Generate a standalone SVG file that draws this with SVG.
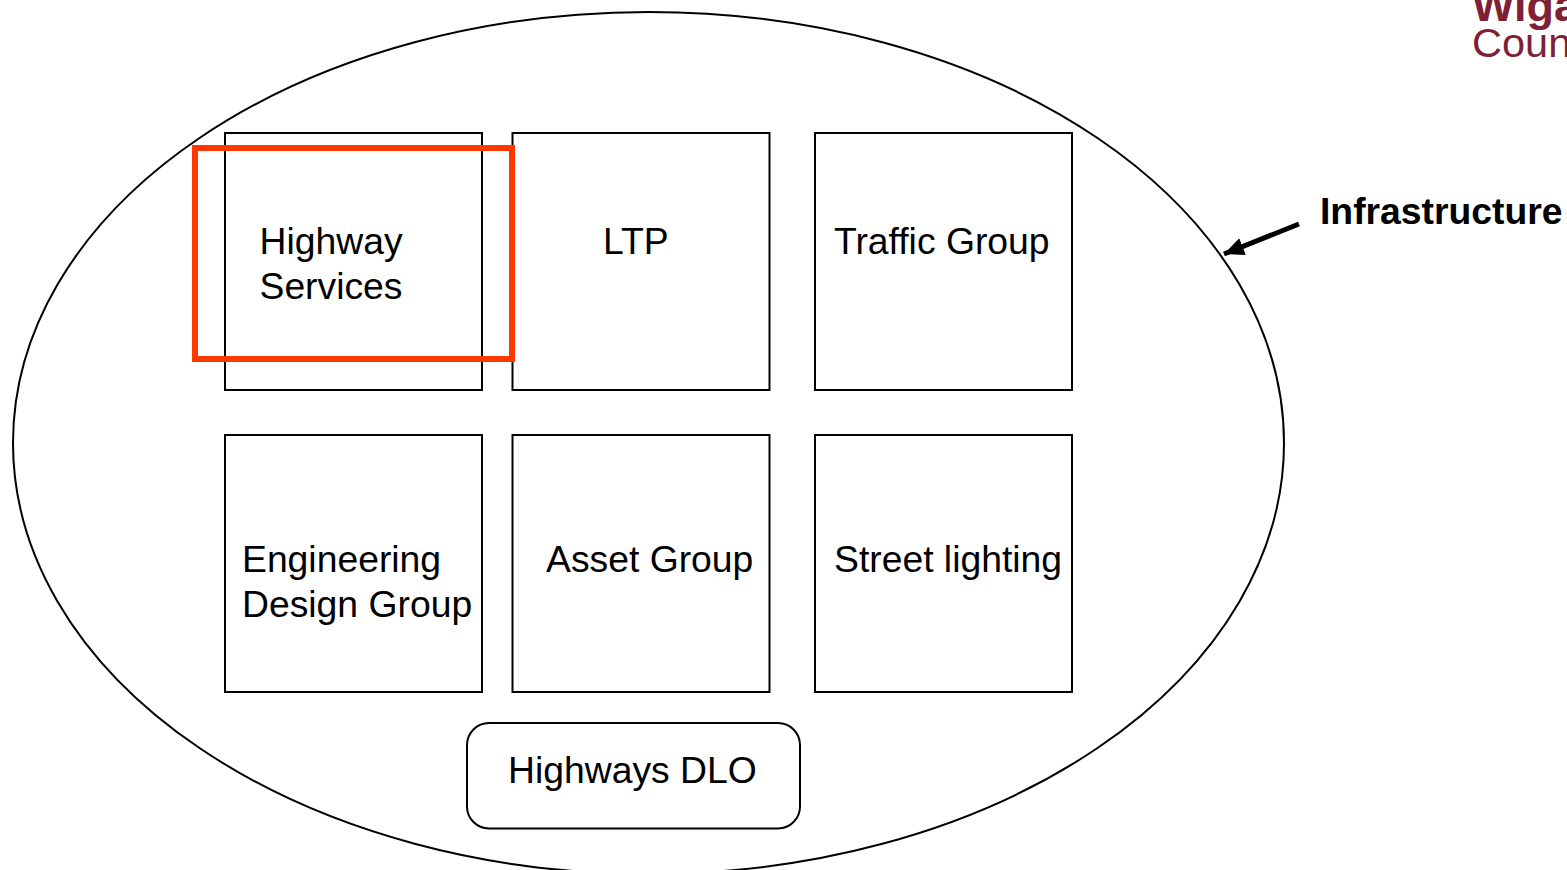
<svg xmlns="http://www.w3.org/2000/svg" width="1567" height="870" viewBox="0 0 1567 870">
<defs><marker id="a" markerUnits="userSpaceOnUse" markerWidth="22" markerHeight="20" refX="20" refY="10" orient="auto"><path d="M0 1L20 10L0 19z" fill="#000"/></marker></defs>
<style>
text{font-family:"Liberation Sans",Arial,sans-serif;font-size:37.3px;fill:#000}
.b{fill:#fff;stroke:#000;stroke-width:2}
.logo{fill:#7f2136}
</style>
<rect width="1567" height="870" fill="#fff"/>
<g id="logo"><text class="logo" x="1472" y="21" style="font-weight:700;font-size:45px">Wiga</text><text class="logo" x="1472" y="57" style="font-size:41.500px">Coun</text></g>
<g id="infrastructure-ellipse"><ellipse cx="648.500" cy="443" rx="635.500" ry="431" fill="none" stroke="#000" stroke-width="2"/></g>
<g id="highway-services"><rect class="b" x="225" y="133" width="257" height="257"/><text x="259.500" y="254">Highway</text><text x="259.500" y="299">Services</text></g>
<g id="ltp"><rect class="b" x="512.500" y="133" width="257" height="257"/><text x="603" y="254">LTP</text></g>
<g id="traffic-group"><rect class="b" x="815" y="133" width="257" height="257"/><text x="834" y="254">Traffic Group</text></g>
<g id="engineering-design-group"><rect class="b" x="225" y="435" width="257" height="257"/><text x="242" y="572">Engineering</text><text x="242" y="617">Design Group</text></g>
<g id="asset-group"><rect class="b" x="512.500" y="435" width="257" height="257"/><text x="546" y="572">Asset Group</text></g>
<g id="street-lighting"><rect class="b" x="815" y="435" width="257" height="257"/><text x="834" y="572">Street lighting</text></g>
<g id="highways-dlo"><rect class="b" x="467" y="723" width="333" height="105.500" rx="22"/><text x="508" y="783">Highways DLO</text></g>
<g id="highlight"><rect x="195" y="148" width="317" height="211" fill="none" stroke="#ff3700" stroke-width="6"/></g>
<g id="infrastructure-label"><text x="1320" y="224" style="font-weight:700">Infrastructure</text></g>
<g id="connectors"><line x1="1299" y1="224" x2="1224" y2="254" stroke="#000" stroke-width="5" marker-end="url(#a)"/></g>
</svg>
